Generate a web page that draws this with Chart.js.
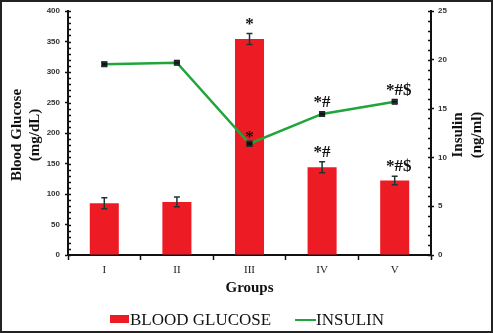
<!DOCTYPE html>
<html>
<head>
<meta charset="utf-8">
<script src="https://cdn.jsdelivr.net/npm/chart.js@4"></script>
<style>
  html, body { margin: 0; padding: 0; background: #fff; }
  canvas { display: block; }
</style>
</head>
<body>
<canvas id="chart" width="493" height="333"></canvas>
<script>
const groups = ['I', 'II', 'III', 'IV', 'V'];
const glucose = [85, 87, 354, 144, 122];
const glucoseErr = [9, 8, 9, 9, 7];
const insulin = [19.55, 19.7, 11.4, 14.45, 15.7];
const insulinErr = [0.2, 0.15, 0.25, 0.2, 0.15];
const glucoseMarks = ['', '', '*', '*#', '*#$'];
const insulinMarks = ['', '', '*', '*#', '*#$'];

const RED = '#ED1C24';
const GREEN = '#1FA53A';
const INK = '#111';
const ERR = '#1d3535';
const SERIF = '"Liberation Serif", "Times New Roman", serif';
const SANS = '"Liberation Sans", Arial, sans-serif';

const extrasPlugin = {
  id: 'extras',
  afterDatasetsDraw(chart) {
    const { ctx, scales } = chart;
    const x = scales.x, y = scales.y, y1 = scales.y1;
    ctx.save();
    ctx.strokeStyle = ERR;
    ctx.lineWidth = 1.5;
    // error bars
    glucose.forEach((v, i) => {
      const cx = x.getPixelForValue(i);
      const t = y.getPixelForValue(v + glucoseErr[i]);
      const b = y.getPixelForValue(v - glucoseErr[i]);
      ctx.beginPath();
      ctx.moveTo(cx, t); ctx.lineTo(cx, b);
      ctx.moveTo(cx - 3, t); ctx.lineTo(cx + 3, t);
      ctx.moveTo(cx - 3, b); ctx.lineTo(cx + 3, b);
      ctx.stroke();
    });
    insulin.forEach((v, i) => {
      const cx = x.getPixelForValue(i);
      const t = y1.getPixelForValue(v + insulinErr[i]);
      const b = y1.getPixelForValue(v - insulinErr[i]);
      ctx.beginPath();
      ctx.moveTo(cx - 3, t); ctx.lineTo(cx + 3, t);
      ctx.moveTo(cx - 3, b); ctx.lineTo(cx + 3, b);
      ctx.stroke();
    });
    // significance marks
    ctx.fillStyle = INK;
    ctx.font = 'bold 17px ' + SERIF;
    ctx.textAlign = 'center';
    ctx.textBaseline = 'alphabetic';
    glucoseMarks.forEach((m, i) => {
      if (!m) return;
      const cx = x.getPixelForValue(i) + (m.length > 2 ? 4 : 0);
      ctx.fillText(m, cx, y.getPixelForValue(glucose[i] + glucoseErr[i]) - 5);
    });
    insulinMarks.forEach((m, i) => {
      if (!m) return;
      const cx = x.getPixelForValue(i) + (m.length > 2 ? 4 : 0);
      const off = m.length === 1 ? 2 : 7;
      ctx.fillText(m, cx, y1.getPixelForValue(insulin[i]) - off);
    });
    ctx.restore();
  },
  afterDraw(chart) {
    const { ctx, chartArea, scales } = chart;
    const y = scales.y, y1 = scales.y1;
    ctx.save();
    // minor ticks
    ctx.strokeStyle = INK;
    ctx.lineWidth = 1.5;
    ctx.beginPath();
    for (let v = 0; v <= 400; v += 10) {
      const py = Math.round(y.getPixelForValue(v)) + 0.5;
      ctx.moveTo(chartArea.left, py); ctx.lineTo(chartArea.left + 3, py);
    }
    for (let v = 0; v <= 25; v += 1) {
      const py = Math.round(y1.getPixelForValue(v)) + 0.5;
      ctx.moveTo(chartArea.right - 3, py); ctx.lineTo(chartArea.right, py);
    }
    ctx.stroke();

    // axis titles
    const midY = (chartArea.top + chartArea.bottom) / 2 + 2;
    ctx.fillStyle = INK;
    ctx.font = 'bold 15px ' + SERIF;
    ctx.textAlign = 'center';
    ctx.textBaseline = 'middle';
    const rot = (text, px) => {
      ctx.save();
      ctx.translate(px, midY);
      ctx.rotate(-Math.PI / 2);
      ctx.fillText(text, 0, 0);
      ctx.restore();
    };
    rot('Blood Glucose', 17);
    rot('(mg/dL)', 35);
    rot('Insulin', 458);
    rot('(ng/ml)', 477);
    ctx.fillText('Groups', (chartArea.left + chartArea.right) / 2, 288);

    // legend
    ctx.font = '17px ' + SERIF;
    ctx.textAlign = 'left';
    ctx.fillStyle = RED;
    ctx.fillRect(110, 315, 19, 8);
    ctx.fillStyle = INK;
    ctx.fillText(chart.data.datasets[1].label, 130, 321);
    ctx.strokeStyle = GREEN;
    ctx.lineWidth = 2;
    ctx.beginPath();
    ctx.moveTo(295, 320); ctx.lineTo(316, 320);
    ctx.stroke();
    ctx.fillText(chart.data.datasets[0].label, 316, 321);

    // frame
    ctx.strokeStyle = '#222';
    ctx.lineWidth = 2;
    ctx.strokeRect(1, 1, chart.width - 2, chart.height - 2);
    ctx.restore();
  }
};

new Chart(document.getElementById('chart'), {
  data: {
    labels: groups,
    datasets: [
      {
        type: 'line',
        label: 'INSULIN',
        data: insulin,
        yAxisID: 'y1',
        borderColor: GREEN,
        borderWidth: 2.5,
        pointStyle: 'rect',
        pointRadius: 2.5,
        pointBackgroundColor: INK,
        pointBorderColor: INK,
        tension: 0,
        order: 0,
      },
      {
        type: 'bar',
        label: 'BLOOD GLUCOSE',
        data: glucose,
        yAxisID: 'y',
        backgroundColor: RED,
        borderWidth: 0,
        categoryPercentage: 1,
        barPercentage: 0.4,
        order: 1,
      }
    ]
  },
  options: {
    responsive: false,
    animation: false,
    layout: { padding: { top: 11, left: 0, right: 0, bottom: 0 } },
    scales: {
      x: {
        afterFit(s) { s.height = 78; },
        grid: { offset: true, drawOnChartArea: false, tickLength: 5, tickColor: INK, tickWidth: 1.5 },
        border: { color: INK, width: 2 },
        ticks: { color: '#222', padding: 4, font: { family: SERIF, size: 11 } },
      },
      y: {
        position: 'left',
        min: 0, max: 400,
        afterFit(s) { s.width = 68; },
        grid: { drawOnChartArea: false, tickLength: 3, tickColor: INK, tickWidth: 1.5 },
        border: { color: INK, width: 2 },
        ticks: { stepSize: 50, color: '#333', padding: 5, font: { family: SANS, size: 8, weight: 'bold' } },
      },
      y1: {
        position: 'right',
        min: 0, max: 25,
        afterFit(s) { s.width = 62; },
        grid: { drawOnChartArea: false, tickLength: 3, tickColor: INK, tickWidth: 1.5 },
        border: { color: INK, width: 2 },
        ticks: { stepSize: 5, color: '#333', padding: 4, font: { family: SANS, size: 8, weight: 'bold' } },
      }
    },
    plugins: {
      legend: { display: false },
      tooltip: { enabled: false }
    }
  },
  plugins: [extrasPlugin]
});
</script>
</body>
</html>
